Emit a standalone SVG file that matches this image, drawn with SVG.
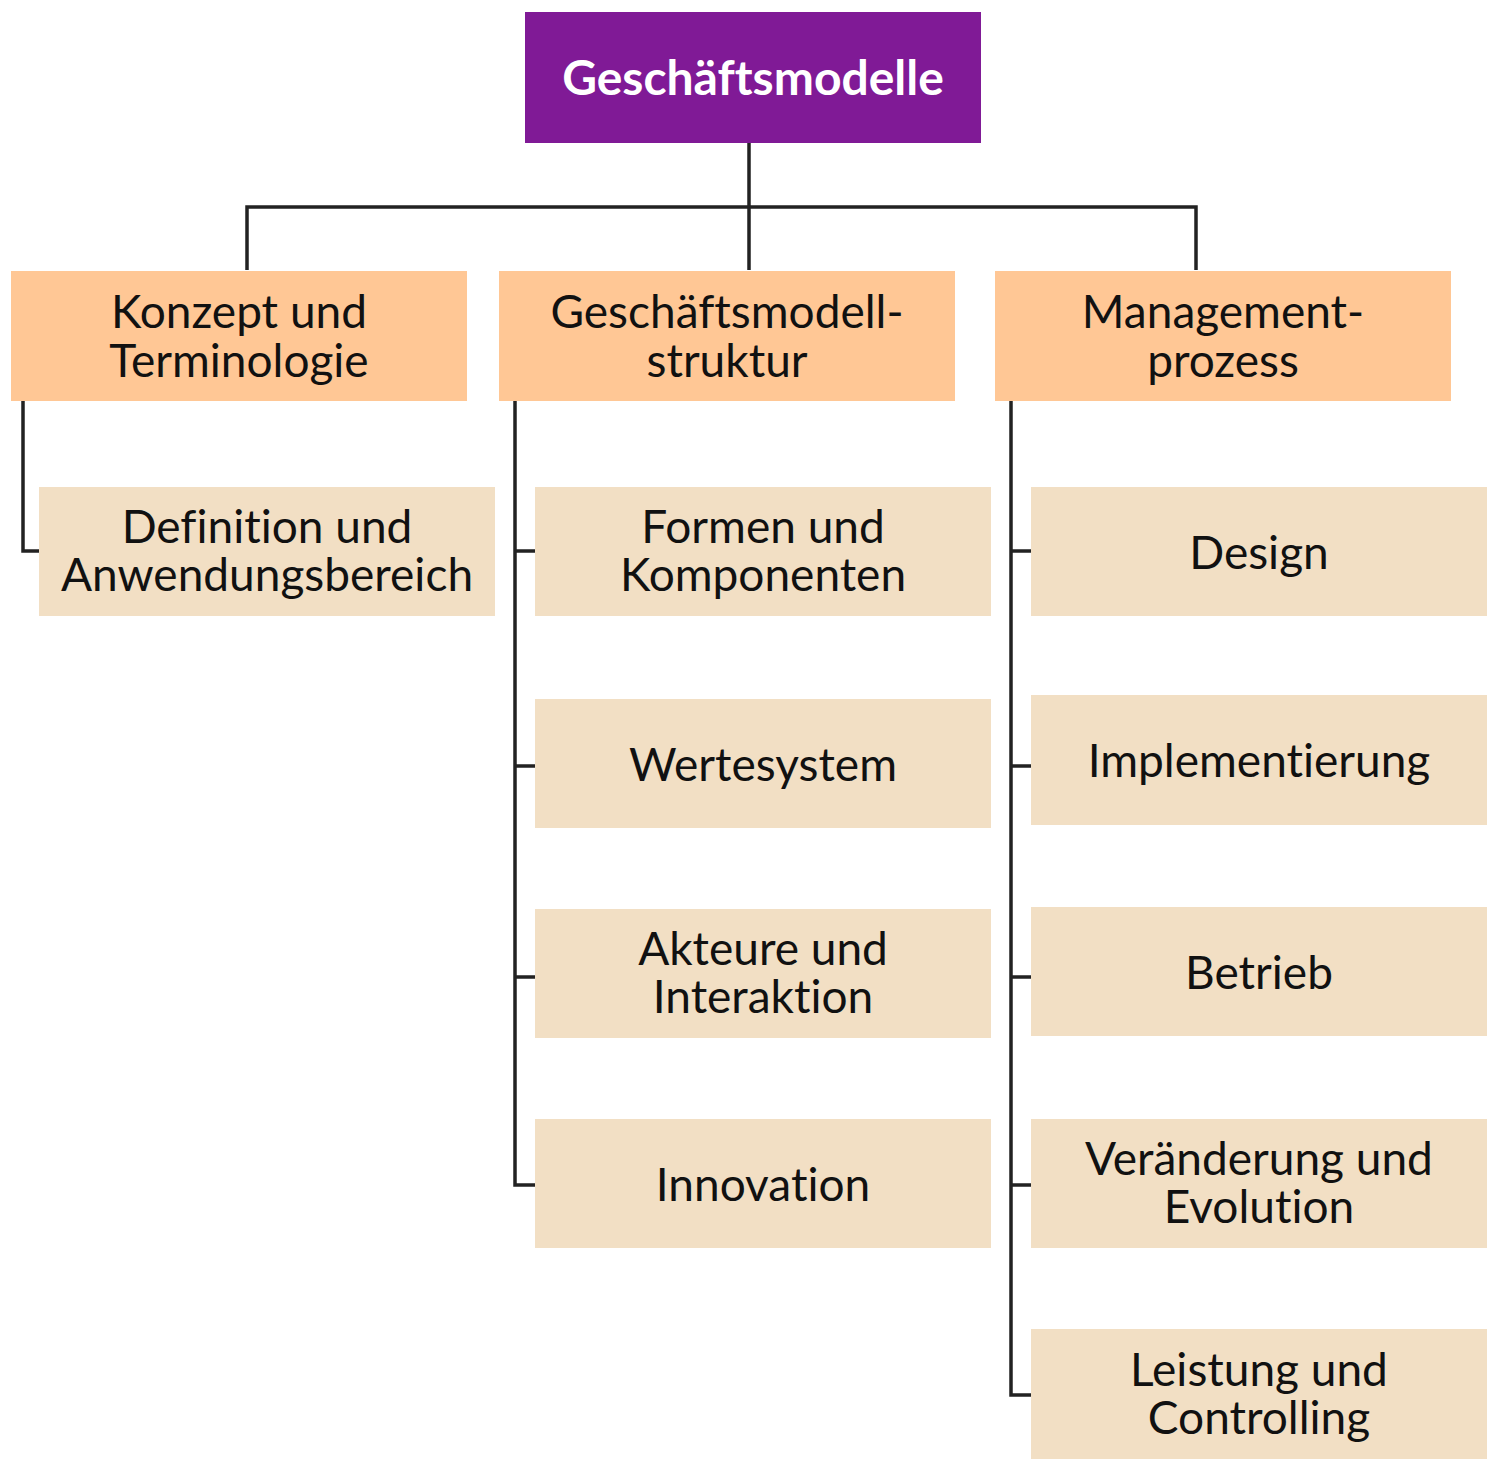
<svg xmlns="http://www.w3.org/2000/svg" width="1500" height="1471" viewBox="0 0 1500 1471">
<style>
.root{fill:#801A96}
.l1{fill:#FFC795}
.l2{fill:#F2DFC4}
text{font-family:Lato,"Noto Sans","Liberation Sans",sans-serif;font-size:46px;fill:#111;text-anchor:middle;font-variant-ligatures:none;font-feature-settings:"liga" 0}
.rt{font-weight:bold;fill:#fff;font-size:48px}
.c{fill:none;stroke:#222;stroke-width:3.5}
</style>
<rect width="1500" height="1471" fill="#fff"/>
<g id="connectors">
<path class="c" d="M749 143V270M247 270V207H1196V270"/>
<path class="c" d="M23 401V551H39"/>
<path class="c" d="M515 401V1185H535M515 551H535M515 766H535M515 977H535"/>
<path class="c" d="M1011 401V1395H1031M1011 551H1031M1011 766H1031M1011 977H1031M1011 1185H1031"/>
</g>
<g id="root"><rect class="root" x="525" y="12" width="456" height="131"/><text class="rt" x="753" y="95">Geschäftsmodelle</text></g>
<g id="konzept"><rect class="l1" x="11" y="271" width="456" height="130"/><text x="239" y="328">Konzept und</text><text x="239" y="377">Terminologie</text></g>
<g id="struktur"><rect class="l1" x="499" y="271" width="456" height="130"/><text x="727" y="328">Geschäftsmodell-</text><text x="727" y="377">struktur</text></g>
<g id="prozess"><rect class="l1" x="995" y="271" width="456" height="130"/><text x="1223" y="328">Management-</text><text x="1223" y="377">prozess</text></g>
<g id="definition"><rect class="l2" x="39" y="487" width="456" height="129"/><text x="267" y="543">Definition und</text><text x="267" y="591">Anwendungsbereich</text></g>
<g id="formen"><rect class="l2" x="535" y="487" width="456" height="129"/><text x="763" y="543">Formen und</text><text x="763" y="591">Komponenten</text></g>
<g id="wertesystem"><rect class="l2" x="535" y="699" width="456" height="129"/><text x="763" y="781">Wertesystem</text></g>
<g id="akteure"><rect class="l2" x="535" y="909" width="456" height="129"/><text x="763" y="965">Akteure und</text><text x="763" y="1013">Interaktion</text></g>
<g id="innovation"><rect class="l2" x="535" y="1119" width="456" height="129"/><text x="763" y="1201">Innovation</text></g>
<g id="design"><rect class="l2" x="1031" y="487" width="456" height="129"/><text x="1259" y="569">Design</text></g>
<g id="implementierung"><rect class="l2" x="1031" y="695" width="456" height="130"/><text x="1259" y="777">Implementierung</text></g>
<g id="betrieb"><rect class="l2" x="1031" y="907" width="456" height="129"/><text x="1259" y="989">Betrieb</text></g>
<g id="veraenderung"><rect class="l2" x="1031" y="1119" width="456" height="129"/><text x="1259" y="1175">Veränderung und</text><text x="1259" y="1223">Evolution</text></g>
<g id="leistung"><rect class="l2" x="1031" y="1329" width="456" height="130"/><text x="1259" y="1386">Leistung und</text><text x="1259" y="1434">Controlling</text></g>
</svg>
